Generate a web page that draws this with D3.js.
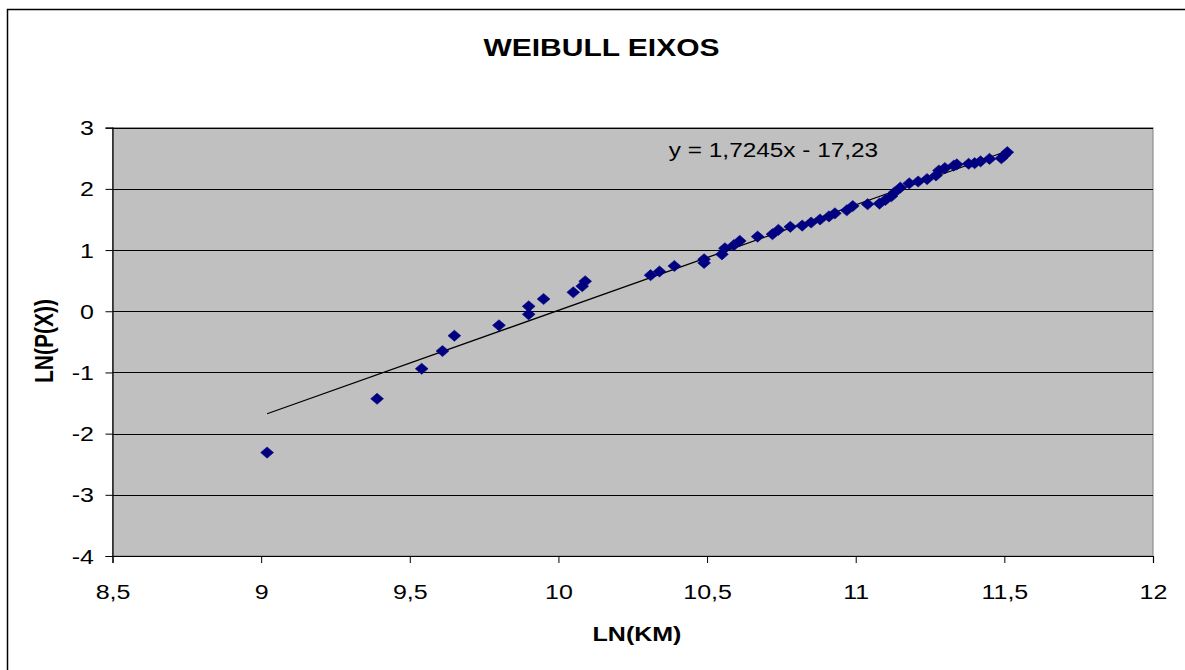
<!DOCTYPE html>
<html>
<head>
<meta charset="utf-8">
<script src="https://cdn.jsdelivr.net/npm/d3@7"></script>
<style>
  body { margin: 0; background: #fff; }
  text { font-family: "Liberation Sans", Arial, sans-serif; }
</style>
</head>
<body>
<div id="chart"></div>
<script>
// data
var lnKm = [9.02, 9.39, 9.54, 9.61, 9.65, 9.80, 9.90, 9.90, 9.95, 10.05, 10.08, 10.09,
    10.31, 10.34, 10.39, 10.49, 10.49, 10.55, 10.56, 10.59, 10.61, 10.67, 10.72, 10.74,
    10.78, 10.82, 10.85, 10.88, 10.91, 10.93, 10.97, 10.99, 11.04, 11.08, 11.10, 11.12,
    11.13, 11.15, 11.18, 11.21, 11.24, 11.27, 11.28, 11.30, 11.33, 11.34, 11.38, 11.40,
    11.42, 11.45, 11.49, 11.50, 11.51];
var lnPx = [-2.31, -1.43, -0.94, -0.65, -0.40, -0.23, -0.05, 0.08, 0.20, 0.31, 0.41, 0.49,
    0.59, 0.65, 0.74, 0.79, 0.85, 0.93, 1.03, 1.08, 1.15, 1.22, 1.26, 1.33,
    1.38, 1.40, 1.45, 1.50, 1.55, 1.60, 1.65, 1.72, 1.75, 1.76, 1.82, 1.88,
    1.94, 2.02, 2.09, 2.12, 2.16, 2.22, 2.30, 2.34, 2.38, 2.40, 2.41, 2.42,
    2.45, 2.49, 2.50, 2.55, 2.60];
var xTicks = [8.5, 9, 9.5, 10, 10.5, 11, 11.5, 12];
var yTicks = [-4, -3, -2, -1, 0, 1, 2, 3];
var slope = 1.7245;
var intercept = -17.23;

var width = 1185, height = 670;
var plot = {left: 112.5, right: 1153, top: 127.7, bottom: 556};
var stretch = 1.25; // the reference text is drawn wide

var svg = d3.select('#chart').append('svg')
    .attr('width', width)
    .attr('height', height);

// outer chart frame (runs off the picture on the right/bottom)
svg.append('rect')
    .attr('x', 7.5).attr('y', 9.5)
    .attr('width', 1200).attr('height', 700)
    .attr('fill', '#fff')
    .attr('stroke', '#000')
    .attr('stroke-width', 1.5);

var x = d3.scaleLinear().domain([8.5, 12]).range([plot.left, plot.right]);
var y = d3.scaleLinear().domain([-4, 3]).range([plot.bottom, plot.top]);

// plot area
svg.append('rect')
    .attr('x', plot.left).attr('y', plot.top)
    .attr('width', plot.right - plot.left)
    .attr('height', plot.bottom - plot.top)
    .attr('fill', '#c0c0c0')
    .attr('stroke', '#808080')
    .attr('stroke-width', 1);

// gridlines
svg.append('g').selectAll('line')
    .data(yTicks.filter(function(d) { return d > -4; }))
    .join('line')
    .attr('x1', plot.left).attr('x2', plot.right)
    .attr('y1', function(d) { return Math.round(y(d)) + 0.5; })
    .attr('y2', function(d) { return Math.round(y(d)) + 0.5; })
    .attr('stroke', '#000')
    .attr('stroke-width', 1);

// axes
var xAxis = d3.axisBottom(x).tickValues(xTicks).tickSize(7)
    .tickFormat(function(d) { return String(d).replace('.', ','); });
var yAxis = d3.axisLeft(y).tickValues(yTicks).tickSize(7)
    .tickFormat(function(d) { return String(d); });

var gx = svg.append('g')
    .attr('transform', 'translate(0,' + plot.bottom + ')')
    .call(xAxis);
var gy = svg.append('g')
    .attr('transform', 'translate(' + plot.left + ',0)')
    .call(yAxis);

[gx, gy].forEach(function(g) {
    g.select('.domain').attr('stroke', '#000').attr('stroke-width', 1.2);
    g.selectAll('.tick line').attr('stroke', '#000');
    g.selectAll('.tick text')
        .attr('fill', '#000')
        .style('font-size', '20px')
        .style('font-family', '"Liberation Sans", Arial, sans-serif');
});
gx.selectAll('.tick text')
    .attr('y', 0).attr('dy', 0)
    .attr('transform', 'translate(0,43) scale(' + stretch + ',1)');
gy.selectAll('.tick text')
    .attr('x', 0).attr('dy', '0.35em')
    .attr('transform', 'translate(-18.5,0) scale(' + stretch + ',1)');

// trendline
var lineX = d3.extent(lnKm);
svg.append('line')
    .attr('x1', x(lineX[0])).attr('y1', y(slope * lineX[0] + intercept))
    .attr('x2', x(lineX[1])).attr('y2', y(slope * lineX[1] + intercept))
    .attr('stroke', '#000')
    .attr('stroke-width', 1.3);

// data points as diamonds
var diamond = d3.symbol().type(d3.symbolSquare).size(62);
svg.append('g').selectAll('path')
    .data(lnKm.map(function(v, i) { return [v, lnPx[i]]; }))
    .join('path')
    .attr('d', diamond)
    .attr('transform', function(d) {
        return 'translate(' + x(d[0]) + ',' + y(d[1]) + ') scale(1.15,1) rotate(45)';
    })
    .attr('fill', '#000080')
    .attr('stroke', '#000080')
    .attr('stroke-width', 0.5);

// texts
function label(tx, ty, size, bold, str, rotate) {
    svg.append('text')
        .attr('transform', 'translate(' + tx + ',' + ty + ') scale(' + stretch + ',1)' +
            (rotate ? ' rotate(-90)' : ''))
        .attr('text-anchor', 'middle')
        .style('font-size', size + 'px')
        .style('font-weight', bold ? 'bold' : 'normal')
        .text(str);
}
label(601.5, 56, 24, true, 'WEIBULL EIXOS');
label(773.5, 157, 19.5, false, 'y = 1,7245x - 17,23');
label(637, 641, 20, true, 'LN(KM)');
label(53, 341, 21, true, 'LN(P(X))', true);
</script>
</body>
</html>
